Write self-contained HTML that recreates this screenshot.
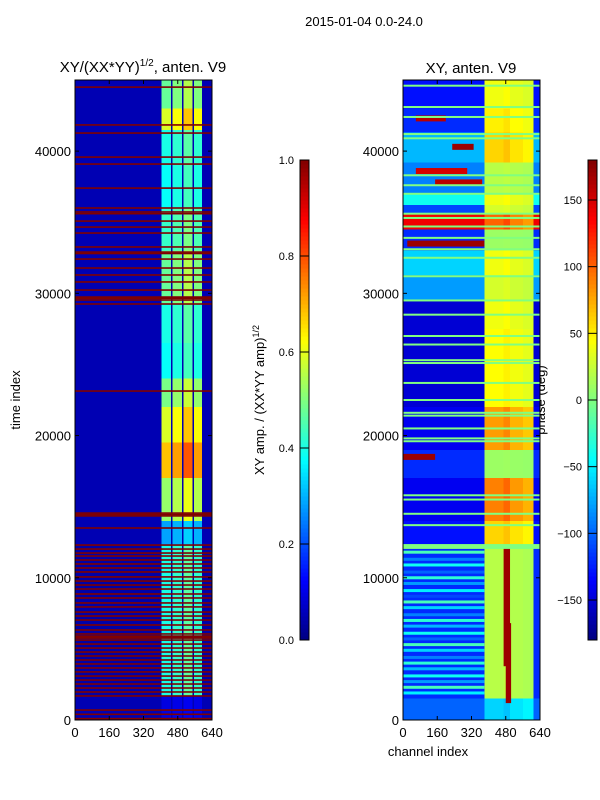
<!DOCTYPE html>
<html><head><meta charset="utf-8"><style>
html,body{margin:0;padding:0;background:#fff;}
svg{display:block;font-family:"Liberation Sans",sans-serif;}
</style></head><body>
<svg id="fig" width="600" height="800" viewBox="0 0 600 800" xmlns="http://www.w3.org/2000/svg">
<text x="364" y="26" font-size="13" text-anchor="middle">2015-01-04 0.0-24.0</text>
<text x="143" y="72" font-size="15" text-anchor="middle">XY/(XX*YY)<tspan font-size="10" dy="-6">1/2</tspan><tspan dy="6">, anten. V9</tspan></text>
<text x="471" y="73" font-size="15" text-anchor="middle">XY, anten. V9</text>
<text transform="translate(20,400) rotate(-90)" font-size="13" text-anchor="middle">time index</text>
<text x="428" y="756" font-size="13" text-anchor="middle">channel index</text>
<text transform="translate(264,400) rotate(-90)" font-size="13" text-anchor="middle">XY amp. / (XX*YY amp)<tspan font-size="9" dy="-5">1/2</tspan></text>
<text transform="translate(545,400) rotate(-90)" font-size="13" text-anchor="middle">phase (deg)</text>
<g id="left"></g>
<g id="right"></g>
<g id="cb1"></g>
<g id="cb2"></g>
</svg>
<script>
// ---- data ----
const timeMax = 45000, chanMax = 640;
const xTicks = [0,160,320,480,640];
const yTicks = [0,10000,20000,30000,40000];
const cb1Ticks = [0.0,0.2,0.4,0.6,0.8,1.0];
const cb2Ticks = [-150,-100,-50,0,50,100,150];
const leftSegStart = [0,405,448,456,500,506,550,556,593];
const leftSegEnd   = [405,448,456,500,506,550,556,593,640];
const leftSegW     = [0,0.95,0.1,1,0.1,1.1,0.1,1,0];
const leftBandStart = [0,1700,12300,14000,17000,19500,22000,24000,26500,29300,33000,36000,39000,41500,43000];
const leftBandEnd   = [1700,12300,14000,17000,19500,22000,24000,26500,29300,33000,36000,39000,41500,43000,45000];
const leftBandBg    = [0.05,0.04,0.05,0.05,0.05,0.05,0.05,0.05,0.05,0.05,0.05,0.05,0.05,0.05,0.05];
const leftBandBr    = [0.1,0.42,0.3,0.55,0.72,0.62,0.52,0.4,0.42,0.5,0.45,0.4,0.42,0.62,0.5];
const leftLines = [44500,41840,41270,39580,39090,37400,36000,35720,35600,35080,34660,34240,33260,32900,32800,32410,31780,31290,30800,30230,29740,29650,29530,29250,23130,14550,14450,14350,13500,
12300,12020,11740,11530,11250,10970,10690,10410,10060,9770,9490,9210,8860,8580,8230,7950,7590,7310,7030,6680,6330,6050,5900,5840,5760,5620,5340,5060,4780,4500,4220,3940,3660,3380,3090,2810,2530,2250,1970,1690,700,400,100];
const rightSegStart = [0,380,470,500,560,610];
const rightSegEnd   = [380,470,500,560,610,640];
const rightSegW     = [0,1,1.1,0.9,0.8,0.3];
const rightBandStart = [0,1500,12300,14000,17000,19000,22000,27500,29500,31300,33000,34500,35600,36200,37000,39200,41300,43000];
const rightBandEnd   = [1500,12300,14000,17000,19000,22000,27500,29500,31300,33000,34500,35600,36200,37000,39200,41300,43000,45000];
const rightBandBg    = [-100,-120,-130,-140,-120,-140,-150,-150,-80,-60,-120,140,-110,-40,-90,-70,-120,-130];
const rightBandBr    = [-60,20,60,90,10,80,45,40,30,40,10,100,30,40,20,60,50,40];
const rightLines = [44600,43100,42400,41200,40900,38300,37600,37000,35600,35300,34700,33900,33100,32500,31200,29500,28500,27000,26400,25300,25100,23700,22500,21600,21400,20500,19800,19600,15800,15500,14500,13700,12300,12200,12100];
const rightStripes = [11800,11300,10900,10400,10000,9600,9100,8700,8300,7900,7400,7000,6600,6100,5700,5300,4900,4400,4000,3600,3100,2700,2300,1900];
const rightStripeVal = [-20,-90,-40,-100,-30,-80,-50,-110,-20,-60,-90,-30,-70,-40,-100,-20,-60,-90,-30,-70,-40,-80,-20,-50];
const rightRedTimes = [33500,37800,38600,40300,42300,18500,8000,4000];
const rightRedCh1 = [20,150,60,230,60,0,470,480];
const rightRedCh2 = [380,370,300,330,200,150,500,505];
const rightRedVal = [170,160,150,170,160,170,170,170];
const rightRedH = [6,6,6,6,6,6,120,80];

// ---- helpers ----
const NS="http://www.w3.org/2000/svg";
function jet(x){x=Math.max(0,Math.min(1,x));const c=v=>Math.round(255*Math.max(0,Math.min(1,v)));
 return `rgb(${c(1.5-Math.abs(4*x-3))},${c(1.5-Math.abs(4*x-2))},${c(1.5-Math.abs(4*x-1))})`;}
function el(tag,attrs,parent){const e=document.createElementNS(NS,tag);for(const k in attrs)e.setAttribute(k,attrs[k]);parent.appendChild(e);return e;}
const Y0=80,Y1=720;
function yS(t){return Y1-(t/timeMax)*(Y1-Y0);}
function mkX(x0,x1){return c=>x0+(c/chanMax)*(x1-x0);}

function drawPanel(g,x0,x1,norm,segS,segE,segW,bS,bE,bBg,bBr,lines,lineVal,name){
 const xS=mkX(x0,x1);
 for(let i=0;i<bS.length;i++){
  for(let j=0;j<segS.length;j++){
   const v = segW[j]<0.5 ? bBg[i] : bBr[i]*segW[j];
   const r=el('rect',{x:xS(segS[j]),y:yS(bE[i]),width:xS(segE[j])-xS(segS[j]),height:yS(bS[i])-yS(bE[i]),fill:jet(norm(v)),'shape-rendering':'crispEdges'},g);
   
   
  }
 }
 for(let k=0;k<lines.length;k++){
  const r=el('rect',{x:x0,y:yS(lines[k])-0.8,width:x1-x0,height:1.6,fill:jet(norm(lineVal))},g);
  
  
 }
}
function axes(g,x0,x1){
 const xS=mkX(x0,x1);
 el('rect',{x:x0,y:Y0,width:x1-x0,height:Y1-Y0,fill:'none',stroke:'#000','stroke-width':1},g);
 xTicks.forEach(v=>{const x=xS(v);
  el('line',{x1:x,x2:x,y1:Y1,y2:Y1-4,stroke:'#000'},g);el('line',{x1:x,x2:x,y1:Y0,y2:Y0+4,stroke:'#000'},g);
  const t=el('text',{x:x,y:Y1+17,'font-size':13,'text-anchor':'middle'},g);t.textContent=v;
  
  });
 yTicks.forEach(v=>{const y=yS(v);
  el('line',{x1:x0,x2:x0+4,y1:y,y2:y,stroke:'#000'},g);el('line',{x1:x1,x2:x1-4,y1:y,y2:y,stroke:'#000'},g);
  const t=el('text',{x:x0-4,y:y+5,'font-size':13,'text-anchor':'end'},g);t.textContent=v;
  
  });
}
function colorbar(g,x0,lo,hi,ticks){
 const w=9,top=160,bot=640;
 for(let i=0;i<120;i++){const f=i/120;
  el('rect',{x:x0,y:bot-(i+1)*4,width:w,height:4.3,fill:jet(f+0.5/120),'shape-rendering':'crispEdges'},g);}
 el('rect',{x:x0,y:top,width:w,height:bot-top,fill:'none',stroke:'#000'},g);
 ticks.forEach(v=>{const y=bot-(v-lo)/(hi-lo)*(bot-top);
  el('line',{x1:x0,x2:x0+w,y1:y,y2:y,stroke:'#000'},g);
  const t=el('text',{x:x0-6,y:y+4,'font-size':11,'text-anchor':'end'},g);
  t.textContent=(lo===0?v.toFixed(1):(v<0?'\u2212'+(-v):v));
  
  });
}
const L=document.getElementById('left'),R=document.getElementById('right');
drawPanel(L,75,212,v=>v,leftSegStart,leftSegEnd,leftSegW,leftBandStart,leftBandEnd,leftBandBg,leftBandBr,leftLines,1.0,'left');
const pn=v=>(v+180)/360;
drawPanel(R,403,540,pn,rightSegStart,rightSegEnd,rightSegW,rightBandStart,rightBandEnd,rightBandBg,rightBandBr,[],0,'right');
const xR=mkX(403,540);
rightStripes.forEach((t,i)=>{
 const r=el('rect',{x:403,y:yS(t)-1.5,width:xR(380)-403,height:3,fill:jet(pn(rightStripeVal[i]))},R);
 
 
});
rightRedTimes.forEach((t,i)=>{
 const h=rightRedH[i];
 const r=el('rect',{x:xR(rightRedCh1[i]),y:yS(t)-h/2,width:xR(rightRedCh2[i])-xR(rightRedCh1[i]),height:h,fill:jet(pn(rightRedVal[i]))},R);
 
 
});
rightLines.forEach(t=>{
 const r=el('rect',{x:403,y:yS(t)-1,width:137,height:2,fill:jet(pn(0))},R);
 
 
});
axes(L,75,212);axes(R,403,540);
colorbar(document.getElementById('cb1'),300,0,1,cb1Ticks);
colorbar(document.getElementById('cb2'),588,-180,180,cb2Ticks);
</script>
</body></html>
